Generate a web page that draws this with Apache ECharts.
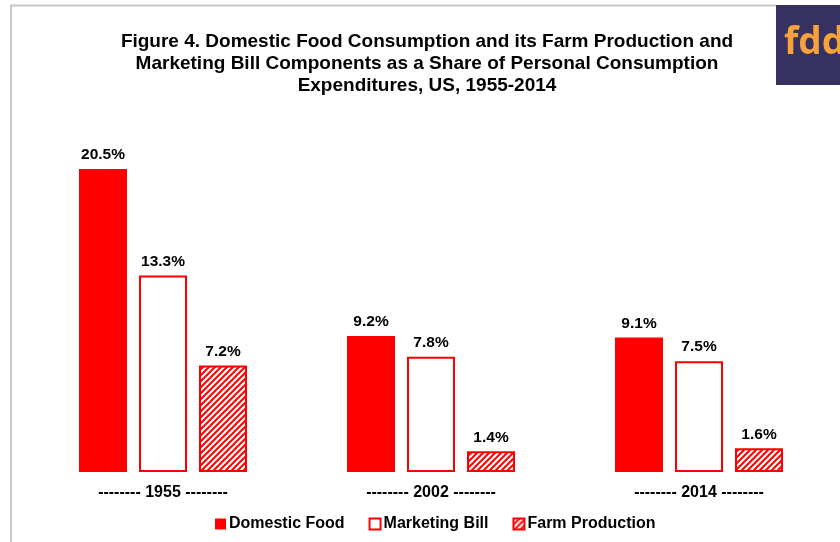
<!DOCTYPE html>
<html><head><meta charset="utf-8">
<script src="https://cdn.jsdelivr.net/npm/echarts@6/dist/echarts.min.js"></script>
<style>html,body{margin:0;padding:0;background:#fff}#c{width:840px;height:542px}</style>
</head><body><div id="c"></div>
<script>
var categories = ['-------- 1955 --------', '-------- 2002 --------', '-------- 2014 --------'];
var domesticFood = [20.5, 9.2, 9.1];
var marketingBill = [13.3, 7.8, 7.5];
var farmProduction = [7.2, 1.4, 1.6];
var seriesNames = ['Domestic Food', 'Marketing Bill', 'Farm Production'];

function stripeCanvas() {
  var c = document.createElement('canvas');
  c.width = 6; c.height = 6;
  var g = c.getContext('2d');
  g.fillStyle = '#fff'; g.fillRect(0, 0, 6, 6);
  g.strokeStyle = '#ff0000'; g.lineWidth = 2;
  g.beginPath();
  g.moveTo(-1, 7); g.lineTo(7, -1);
  g.moveTo(-4, 4); g.lineTo(4, -4);
  g.moveTo(2, 10); g.lineTo(10, 2);
  g.stroke();
  return c;
}
var stripe = {image: stripeCanvas(), repeat: 'repeat'};

var chart = echarts.init(document.getElementById('c'));
var labelStyle = {show: true, position: 'top', distance: 6, formatter: function(p){return p.value.toFixed(1) + '%';}, fontFamily: 'Liberation Sans, Arial, sans-serif', fontWeight: 'bold', fontSize: 15.5, color: '#000'};
chart.setOption({
  animation: false,
  title: {
    text: 'Figure 4. Domestic Food Consumption and its Farm Production and\nMarketing Bill Components as a Share of Personal Consumption\nExpenditures, US, 1955-2014',
    left: 422, top: 26, textAlign: 'center',
    textStyle: {fontFamily: 'Liberation Sans Narrow, Arial Narrow, sans-serif', fontWeight: 'bold', fontSize: 19, lineHeight: 22, color: '#000'}
  },
  legend: {
    bottom: 5, left: 210, itemWidth: 11, itemHeight: 11, itemGap: 24, icon: 'rect',
    textStyle: {fontFamily: 'Liberation Sans, Arial, sans-serif', fontWeight: 'bold', fontSize: 16, color: '#000', padding: [0,0,0,-2]},
    data: seriesNames
  },
  grid: {left: 29, right: 7, top: 102.5, bottom: 70},
  xAxis: {
    type: 'category', data: categories,
    axisLine: {show: false}, axisTick: {show: false},
    axisLabel: {margin: 13, fontFamily: 'Liberation Sans, Arial, sans-serif', fontWeight: 'bold', fontSize: 16, color: '#000'}
  },
  yAxis: {type: 'value', min: 0, max: 25, show: false, splitLine: {show: false}},
  series: [
    {name: seriesNames[0], type: 'bar', data: domesticFood, barWidth: 48, barGap: '25%', itemStyle: {color: '#ff0000'}, label: labelStyle},
    {name: seriesNames[1], type: 'bar', data: marketingBill, barWidth: 48, itemStyle: {color: '#ffffff', borderColor: '#ff0000', borderWidth: 2}, label: labelStyle},
    {name: seriesNames[2], type: 'bar', data: farmProduction, barWidth: 48, itemStyle: {color: stripe, borderColor: '#ff0000', borderWidth: 2}, label: labelStyle}
  ],
  graphic: [
    {type: 'polyline', shape: {points: [[11, 542], [11, 5.5], [776, 5.5]]}, style: {stroke: '#c8c8c8', lineWidth: 2, fill: null}, silent: true},
    {type: 'rect', shape: {x: 776, y: 5, width: 64, height: 80}, style: {fill: '#363160'}, silent: true},
    {type: 'text', x: 784, y: 25, style: {text: 'fdd', fill: '#f7a23a', font: 'bold 37px "Open Sans", Lato, sans-serif'}, silent: true}
  ]
});
</script></body></html>
